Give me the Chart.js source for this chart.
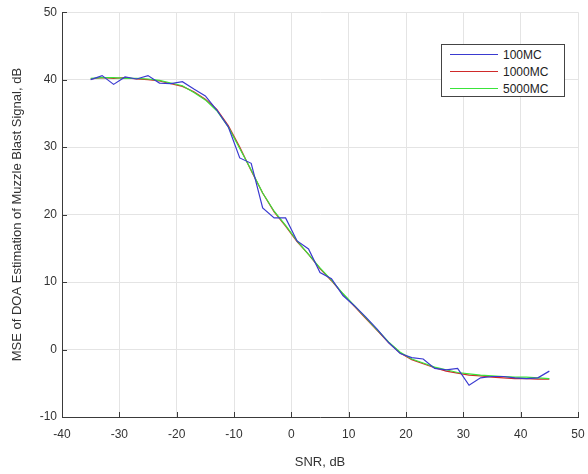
<!DOCTYPE html>
<html>
<head>
<meta charset="utf-8">
<script src="https://cdn.jsdelivr.net/npm/chart.js@4.4.0/dist/chart.umd.min.js"></script>
<style>
  html, body { margin: 0; padding: 0; background: #fff; }
  #wrap { position: relative; width: 588px; height: 474px; }
  #legend {
    position: absolute; left: 441px; top: 44px; width: 124px; height: 53px;
    border: 1px solid #444; background: #fff; box-sizing: border-box; padding-top: 1px;
    font-family: "Liberation Sans", Arial, sans-serif; font-size: 12px; color: #222;
  }
  #legend .row { display: flex; align-items: center; height: 17px; }
  #legend .sw { display: block; width: 48px; height: 0; border-top: 1px solid; margin: 0 5px 0 8px; }
</style>
</head>
<body>
<div id="wrap">
  <canvas id="mseChart" width="588" height="474"></canvas>
  <div id="legend"></div>
</div>
<script>
const snr = [-35, -33, -31, -29, -27, -25, -23, -21, -19, -17, -15, -13, -11, -9, -7, -5, -3, -1, 1, 3, 5,
  7, 9, 11, 13, 15, 17, 19, 21, 23, 25, 27, 29, 31, 33, 35, 37, 39, 41, 43, 45];

const mse100 = [40.0, 40.6, 39.3, 40.4, 40.1, 40.6, 39.5, 39.4, 39.7, 38.6, 37.6, 35.5, 33.0, 28.4, 27.6, 21.0,
  19.5, 19.5, 16.1, 14.9, 11.4, 10.5, 8.0, 6.5, 4.8, 3.0, 1.0, -0.6, -1.2, -1.4, -2.8, -3.0, -2.8, -5.3,
  -4.2, -4.0, -4.0, -4.2, -4.3, -4.2, -3.2];

const mse1000 = [40.1, 40.3, 40.2, 40.3, 40.1, 40.0, 39.8, 39.4, 39.0, 38.2, 37.1, 35.6, 33.2, 30.0, 26.5, 23.2,
  20.4, 18.3, 16.0, 14.1, 12.0, 10.2, 8.2, 6.4, 4.6, 2.8, 1.0, -0.5, -1.5, -2.1, -2.7, -3.2, -3.5, -3.8,
  -3.9, -4.1, -4.2, -4.3, -4.3, -4.4, -4.4];

const mse5000 = [40.2, 40.3, 40.3, 40.2, 40.2, 40.1, 39.9, 39.5, 39.1, 38.1, 37.0, 35.4, 33.0, 29.8, 26.6, 23.2,
  20.5, 18.4, 16.1, 14.1, 12.1, 10.3, 8.3, 6.5, 4.7, 2.9, 1.1, -0.4, -1.4, -2.0, -2.6, -3.0, -3.4, -3.6,
  -3.8, -3.9, -4.0, -4.1, -4.1, -4.2, -4.3];

const xTicks = [-40, -30, -20, -10, 0, 10, 20, 30, 40, 50];
const yTicks = [-10, 0, 10, 20, 30, 40, 50];

const seriesNames = ['100MC', '1000MC', '5000MC'];
const seriesColors = ['#3a3ad0', '#d02a2a', '#3ae43a'];
const drawOrder = [0, 2, 1];

const toPoints = vals => snr.map((x, i) => ({ x: x, y: vals[i] }));

const ticksPlugin = {
  id: 'innerTicks',
  afterDraw(chart) {
    const { ctx, chartArea: a } = chart;
    ctx.save();
    ctx.strokeStyle = '#3a3a3a';
    ctx.lineWidth = 1;
    ctx.beginPath();
    chart.scales.x.ticks.forEach(t => {
      const px = Math.round(chart.scales.x.getPixelForValue(t.value)) + 0.5;
      ctx.moveTo(px, a.bottom);
      ctx.lineTo(px, a.bottom - 5);
    });
    chart.scales.y.ticks.forEach(t => {
      const py = Math.round(chart.scales.y.getPixelForValue(t.value)) + 0.5;
      ctx.moveTo(a.left, py);
      ctx.lineTo(a.left + 5, py);
    });
    ctx.stroke();
    ctx.restore();
  }
};

new Chart(document.getElementById('mseChart'), {
  type: 'line',
  data: {
    datasets: [mse100, mse1000, mse5000].map((vals, i) => ({
      label: seriesNames[i],
      data: toPoints(vals),
      borderColor: seriesColors[i],
      backgroundColor: seriesColors[i],
      borderWidth: 1.2,
      pointRadius: 0,
      tension: 0,
      fill: false,
      order: drawOrder[i]
    }))
  },
  options: {
    responsive: false,
    animation: false,
    layout: { padding: { top: 10, right: 10, left: 0, bottom: 0 } },
    plugins: {
      legend: { display: false },
      tooltip: { enabled: false }
    },
    scales: {
      x: {
        type: 'linear',
        min: -40,
        max: 50,
        afterBuildTicks: axis => { axis.ticks = xTicks.map(v => ({ value: v })); },
        afterFit: axis => {
          axis.height = 57;
          axis.paddingLeft = 0;
          axis.paddingRight = 0;
        },
        grid: { color: '#e4e4e4', drawTicks: false },
        border: { color: '#3a3a3a', width: 1 },
        ticks: {
          padding: 10,
          color: '#333',
          font: { family: '"Liberation Sans", Arial, sans-serif', size: 12 }
        },
        title: {
          display: true,
          text: 'SNR, dB',
          color: '#333',
          padding: { top: 2 },
          font: { family: '"Liberation Sans", Arial, sans-serif', size: 13 }
        }
      },
      y: {
        type: 'linear',
        min: -10,
        max: 50,
        afterBuildTicks: axis => { axis.ticks = yTicks.map(v => ({ value: v })); },
        afterFit: axis => { axis.width = 62; },
        grid: { color: '#e4e4e4', drawTicks: false },
        border: { color: '#3a3a3a', width: 1 },
        ticks: {
          padding: 5,
          color: '#333',
          font: { family: '"Liberation Sans", Arial, sans-serif', size: 12 }
        },
        title: {
          display: true,
          text: 'MSE of DOA Estimation of Muzzle Blast Signal, dB',
          color: '#333',
          padding: { top: 10, bottom: 4 },
          font: { family: '"Liberation Sans", Arial, sans-serif', size: 13 }
        }
      }
    }
  },
  plugins: [ticksPlugin]
});

const legendEl = document.getElementById('legend');
seriesNames.forEach((name, i) => {
  const row = document.createElement('div');
  row.className = 'row';
  row.innerHTML = '<span class="sw" style="border-color:' + seriesColors[i] + '"></span><span>' + name + '</span>';
  legendEl.appendChild(row);
});
</script>
</body>
</html>
